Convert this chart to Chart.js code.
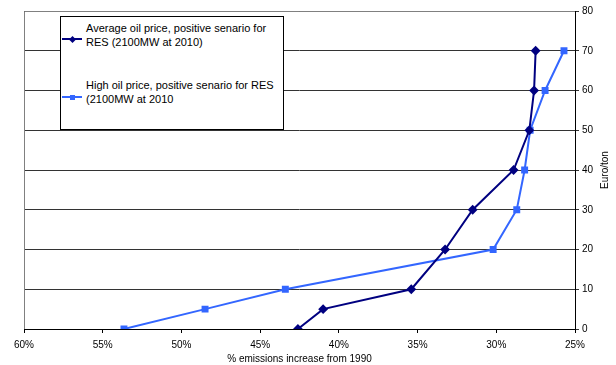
<!DOCTYPE html>
<html>
<head>
<meta charset="utf-8">
<script src="https://cdn.jsdelivr.net/npm/chart.js@4/dist/chart.umd.min.js"></script>
<style>
  html, body { margin: 0; padding: 0; background: #fff; }
  #wrap { position: relative; width: 616px; height: 365px; }
  #legend {
    position: absolute; left: 60px; top: 16px; width: 224px; height: 114px;
    box-sizing: border-box; border: 1px solid #000; background: #fff;
    font: 11px "Liberation Sans", Arial, sans-serif; color: #000;
  }
  #legend .txt { position: absolute; left: 25px; line-height: 14px; white-space: nowrap; }
  #legend .ln { position: absolute; left: 1px; width: 20px; height: 2px; }
  #legend .mk { position: absolute; width: 5px; height: 5px; left: 9px; }
</style>
</head>
<body>
<div id="wrap">
  <canvas id="myChart" width="616" height="365"></canvas>
  <div id="legend"></div>
</div>
<script>
// data
const labelAvg = ["Average oil price, positive senario for", "RES (2100MW at 2010)"];
const labelHigh = ["High oil price, positive senario for RES", "(2100MW at 2010"];
const priceLevels = [0, 5, 10, 20, 30, 40, 50, 60, 70];
const emissionsAvg = [42.6, 41.0, 35.4, 33.25, 31.5, 28.9, 27.9, 27.6, 27.5];
const emissionsHigh = [53.65, 48.5, 43.4, 30.2, 28.7, 28.2, 27.85, 26.9, 25.7];
const xTicks = [60, 55, 50, 45, 40, 35, 30, 25];
const yTicks = [0, 10, 20, 30, 40, 50, 60, 70, 80];

const navy = "#000080";
const blue = "#3366ff";
const fontFamily = "'Liberation Sans', Arial, sans-serif";

function toPoints(xs) {
  return xs.map((x, i) => ({ x: x, y: priceLevels[i] }));
}

// plot area border (top and left gray lines) + y title read bottom to top
const plotBorder = {
  id: "plotBorder",
  beforeDatasetsDraw(chart) {
    const { ctx, chartArea: a } = chart;
    ctx.save();
    ctx.strokeStyle = "#808080";
    ctx.lineWidth = 1;
    ctx.beginPath();
    ctx.moveTo(a.left + 0.5, a.bottom);
    ctx.lineTo(a.left + 0.5, a.top + 0.5);
    ctx.lineTo(a.right, a.top + 0.5);
    ctx.stroke();
    ctx.restore();
  },
  afterDraw(chart) {
    const { ctx, chartArea: a } = chart;
    ctx.save();
    ctx.translate(605, (a.top + a.bottom) / 2);
    ctx.rotate(-Math.PI / 2);
    ctx.fillStyle = "#000";
    ctx.font = "10px " + fontFamily;
    ctx.textAlign = "center";
    ctx.textBaseline = "middle";
    ctx.fillText("Euro/ton", 0, 0);
    ctx.restore();
  },
};

let myChart = document.getElementById("myChart").getContext("2d");
let dataChart = new Chart(myChart, {
  type: "scatter",
  data: {
    datasets: [
      {
        label: labelAvg.join(" "),
        data: toPoints(emissionsAvg),
        showLine: true,
        borderColor: navy,
        backgroundColor: navy,
        borderWidth: 2,
        pointStyle: "rectRot",
        pointRadius: 3.5,
        pointHoverRadius: 3.5,
      },
      {
        label: labelHigh.join(" "),
        data: toPoints(emissionsHigh),
        showLine: true,
        borderColor: blue,
        backgroundColor: blue,
        borderWidth: 2,
        pointStyle: "rect",
        pointRadius: 3.5,
        pointHoverRadius: 3.5,
      },
    ],
  },
  options: {
    responsive: false,
    animation: false,
    layout: { padding: { left: 24, top: 11, right: 0, bottom: 0 } },
    plugins: {
      legend: { display: false },
      tooltip: { enabled: false },
    },
    scales: {
      x: {
        type: "linear",
        reverse: true,
        min: 25,
        max: 60,
        afterBuildTicks: (scale) => {
          scale.ticks = xTicks.map((v) => ({ value: v }));
        },
        afterFit: (scale) => {
          scale.height = 36;
        },
        ticks: {
          color: "#000",
          font: { family: fontFamily, size: 10 },
          padding: 6,
          maxRotation: 0,
          callback: (v) => v + "%",
        },
        border: { color: "#000", width: 1 },
        grid: {
          drawOnChartArea: false,
          drawTicks: true,
          tickLength: 4,
          color: "#000",
        },
        title: {
          display: true,
          text: "% emissions increase from 1990",
          color: "#000",
          font: { family: fontFamily, size: 10 },
          padding: { top: 0, bottom: 0 },
        },
      },
      y: {
        position: "right",
        min: 0,
        max: 80,
        afterBuildTicks: (scale) => {
          scale.ticks = yTicks.map((v) => ({ value: v }));
        },
        afterFit: (scale) => {
          scale.width = 41;
        },
        ticks: {
          color: "#000",
          font: { family: fontFamily, size: 10 },
          padding: 3,
        },
        border: { color: "#000", width: 1 },
        grid: {
          color: "#333",
          lineWidth: 1,
          tickLength: 4,
        },
      },
    },
  },
  plugins: [plotBorder],
});

// legend box as html
const legend = document.getElementById("legend");
const items = [
  { lines: labelAvg, color: navy, textTop: 4, markTop: 22, shape: "diamond" },
  { lines: labelHigh, color: blue, textTop: 61, markTop: 80, shape: "square" },
];
items.forEach((it) => {
  const txt = document.createElement("div");
  txt.className = "txt";
  txt.style.top = it.textTop + "px";
  txt.innerHTML = it.lines.join("<br>");
  const ln = document.createElement("div");
  ln.className = "ln";
  ln.style.top = it.markTop - 1 + "px";
  ln.style.background = it.color;
  const mk = document.createElement("div");
  mk.className = "mk";
  mk.style.top = it.markTop - 2.5 + "px";
  mk.style.background = it.color;
  if (it.shape === "diamond") mk.style.transform = "rotate(45deg)";
  legend.appendChild(txt);
  legend.appendChild(ln);
  legend.appendChild(mk);
});
</script>
</body>
</html>
